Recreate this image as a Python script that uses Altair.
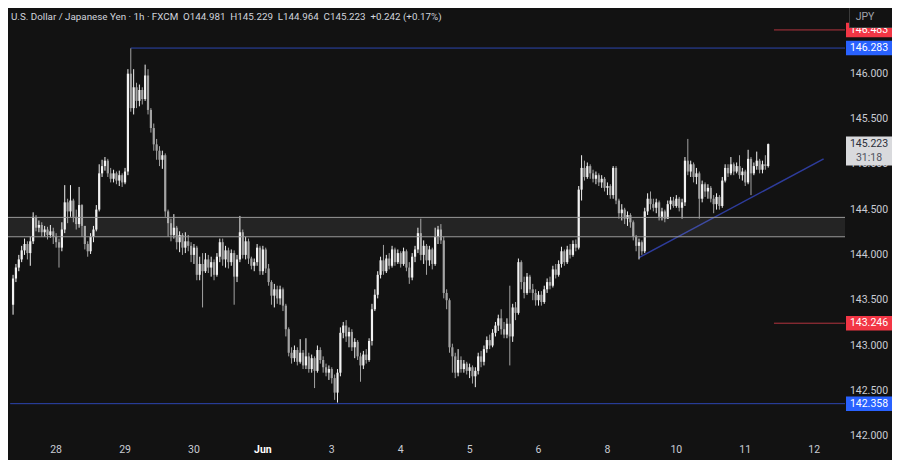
import altair as alt
import pandas as pd

# ---------------- data ----------------
NB = "\u00a0"
TITLE = ("U.S. Dollar / Japanese Yen · 1h · FXCM" + NB * 2 + "O144.981" + NB * 2 + "H145.229"
         + NB * 2 + "L144.964" + NB * 2 + "C145.223" + NB * 2 + "+0.242 (+0.17%)")
FIRST_OPEN = 143.45

closes = [
    143.74, 143.86, 143.95, 144.05, 144.12, 144.02, 144.15, 144.42,
    144.30, 144.33, 144.25, 144.28, 144.22, 144.26, 144.20, 144.14,
    144.08, 144.28, 144.58, 144.48, 144.60, 144.42, 144.34, 144.55,
    144.32, 144.12, 144.04, 144.20, 144.28, 144.50, 144.90, 144.98,
    145.04, 144.90, 144.84, 144.90, 144.82, 144.88, 144.80, 144.92,
    146.00, 145.62, 145.85, 145.70, 145.82, 145.72, 145.98, 145.60,
    145.40, 145.22, 145.15, 145.05, 145.10, 144.48, 144.35, 144.22,
    144.30, 144.14, 144.22, 144.08, 144.15, 144.10, 144.00, 144.08,
    143.78, 143.90, 143.82, 143.95, 143.86, 143.92, 143.78, 143.98,
    144.14, 143.95, 144.05, 143.92, 144.02, 143.76, 143.95, 144.25,
    144.00, 144.15, 143.96, 143.88, 143.92, 144.08, 143.82, 144.06,
    143.85, 143.70, 143.55, 143.62, 143.52, 143.62, 143.44, 143.18,
    142.92, 142.86, 142.95, 142.82, 142.92, 142.78, 142.88, 142.74,
    142.86, 142.72, 142.95, 142.84, 142.76, 142.70, 142.74, 142.64,
    142.48, 142.70, 143.14, 143.22, 143.10, 143.15, 142.98, 143.04,
    142.88, 142.78, 142.90, 142.84, 143.05, 143.40, 143.56, 143.78,
    143.94, 143.82, 143.96, 143.88, 144.06, 143.92, 144.02, 143.90,
    144.04, 143.86, 143.75, 143.98, 144.06, 144.24, 144.00, 144.10,
    143.94, 144.06, 143.90, 144.20, 144.28, 144.16, 143.58, 143.50,
    142.98, 142.88, 142.70, 142.84, 142.74, 142.80, 142.72, 142.76,
    142.66, 142.72, 142.88, 142.82, 142.96, 143.06, 143.00, 143.14,
    143.22, 143.30, 143.18, 143.12, 143.24, 143.10, 143.42, 143.36,
    143.92, 143.70, 143.58, 143.76, 143.62, 143.58, 143.50, 143.56,
    143.48, 143.62, 143.70, 143.66, 143.84, 143.78, 143.90, 144.04,
    143.92, 144.06, 144.00, 144.12, 144.08, 144.72, 144.96, 144.86,
    144.98, 144.90, 144.84, 144.88, 144.80, 144.84, 144.74, 144.76,
    144.66, 144.96, 144.60, 144.46, 144.50, 144.40, 144.44, 144.36,
    144.20, 144.10, 144.14, 144.04, 144.48, 144.62, 144.56, 144.52,
    144.58, 144.42, 144.48, 144.40, 144.56, 144.60, 144.54, 144.62,
    144.52, 144.58, 145.04, 144.92, 145.00, 144.86, 144.90, 144.62,
    144.78, 144.70, 144.74, 144.62, 144.56, 144.64, 144.54, 144.82,
    144.96, 144.90, 145.00, 144.92, 144.98, 144.88, 144.92, 144.80,
    145.06, 144.90, 144.98, 145.04, 144.94, 145.00, 144.981, 145.223,
]

highs = [
    143.78, 143.90, 144.00, 144.10, 144.18, 144.15, 144.20, 144.47,
    144.44, 144.38, 144.36, 144.32, 144.31, 144.33, 144.30, 144.24,
    144.18, 144.36, 144.77, 144.62, 144.77, 144.62, 144.50, 144.75,
    144.56, 144.30, 144.15, 144.24, 144.32, 144.55, 145.00, 145.05,
    145.08, 145.06, 144.96, 144.94, 144.92, 144.93, 144.90, 144.96,
    146.05, 146.28, 146.05, 145.90, 145.88, 145.85, 146.10, 146.05,
    145.62, 145.45, 145.28, 145.20, 145.15, 145.12, 144.50, 144.40,
    144.45, 144.32, 144.26, 144.24, 144.25, 144.22, 144.14, 144.12,
    144.10, 143.98, 144.02, 144.02, 144.00, 143.98, 143.95, 144.02,
    144.18, 144.18, 144.10, 144.08, 144.06, 144.05, 144.00, 144.43,
    144.28, 144.20, 144.18, 143.98, 143.96, 144.12, 144.10, 144.10,
    144.08, 143.90, 143.72, 143.68, 143.66, 143.66, 143.64, 143.46,
    143.20, 142.98, 143.00, 142.98, 143.07, 142.95, 143.08, 142.92,
    142.90, 142.88, 143.00, 142.98, 142.88, 142.80, 142.78, 142.76,
    142.68, 142.74, 143.20, 143.26, 143.28, 143.20, 143.18, 143.08,
    143.06, 142.92, 142.94, 142.96, 143.08, 143.46, 143.62, 143.82,
    143.98, 144.11, 144.00, 144.02, 144.10, 144.08, 144.06, 144.04,
    144.08, 144.06, 143.92, 144.02, 144.10, 144.30, 144.40, 144.16,
    144.12, 144.10, 144.08, 144.30, 144.32, 144.34, 144.20, 143.62,
    143.52, 143.02, 142.92, 142.96, 142.88, 142.84, 142.82, 142.80,
    142.78, 142.76, 142.92, 142.94, 143.00, 143.10, 143.12, 143.18,
    143.26, 143.34, 143.40, 143.26, 143.30, 143.66, 143.46, 143.48,
    143.96, 143.94, 143.76, 143.80, 143.78, 143.68, 143.62, 143.60,
    143.60, 143.66, 143.74, 143.76, 143.88, 143.90, 143.94, 144.09,
    144.06, 144.10, 144.12, 144.16, 144.17, 144.76, 145.10, 145.04,
    145.02, 145.00, 144.94, 144.92, 144.90, 144.88, 144.86, 144.80,
    144.78, 144.98, 144.98, 144.62, 144.56, 144.52, 144.48, 144.46,
    144.38, 144.22, 144.18, 144.16, 144.52, 144.68, 144.70, 144.62,
    144.62, 144.60, 144.52, 144.50, 144.60, 144.64, 144.64, 144.66,
    144.64, 144.62, 145.08, 145.28, 145.04, 145.02, 144.96, 144.92,
    144.82, 144.80, 144.78, 144.76, 144.66, 144.68, 144.66, 144.86,
    145.00, 145.00, 145.08, 145.02, 145.02, 145.10, 144.96, 144.94,
    145.16, 145.08, 145.02, 145.14, 145.06, 145.04, 145.10, 145.229,
]

lows = [
    143.34, 143.70, 143.82, 143.92, 144.00, 143.95, 143.88, 144.12,
    144.26, 144.25, 144.20, 144.20, 144.17, 144.19, 144.12, 144.08,
    143.86, 144.04, 144.24, 144.35, 144.42, 144.36, 144.28, 144.30,
    144.20, 144.06, 143.98, 144.01, 144.14, 144.26, 144.48, 144.86,
    144.93, 144.86, 144.80, 144.80, 144.78, 144.76, 144.75, 144.78,
    144.88, 145.58, 145.55, 145.62, 145.64, 145.66, 145.70, 145.55,
    145.35, 145.15, 145.05, 144.98, 144.95, 144.42, 144.20, 144.15,
    144.18, 144.06, 144.03, 144.00, 144.02, 144.04, 143.92, 143.90,
    143.72, 143.72, 143.42, 143.80, 143.80, 143.76, 143.72, 143.76,
    143.92, 143.88, 143.86, 143.85, 143.88, 143.45, 143.70, 143.92,
    143.96, 143.95, 143.90, 143.84, 143.82, 143.88, 143.78, 143.78,
    143.80, 143.66, 143.45, 143.42, 143.46, 143.45, 143.38, 143.10,
    142.88, 142.80, 142.82, 142.78, 142.80, 142.74, 142.74, 142.70,
    142.70, 142.53, 142.70, 142.80, 142.70, 142.66, 142.62, 142.58,
    142.40, 142.37, 142.66, 143.08, 143.04, 142.98, 142.94, 142.86,
    142.84, 142.60, 142.74, 142.80, 142.82, 143.00, 143.38, 143.52,
    143.74, 143.78, 143.80, 143.84, 143.86, 143.88, 143.90, 143.86,
    143.88, 143.82, 143.68, 143.72, 143.92, 144.02, 143.94, 143.90,
    143.78, 143.88, 143.84, 143.88, 144.12, 144.12, 143.52, 143.40,
    142.92, 142.70, 142.64, 142.66, 142.70, 142.70, 142.68, 142.64,
    142.58, 142.54, 142.68, 142.76, 142.78, 142.92, 142.96, 142.98,
    143.10, 143.16, 143.12, 143.08, 143.08, 142.78, 143.04, 143.28,
    143.34, 143.62, 143.52, 143.56, 143.58, 143.50, 143.44, 143.44,
    143.44, 143.46, 143.58, 143.62, 143.64, 143.74, 143.76, 143.86,
    143.88, 143.90, 143.96, 143.98, 144.04, 144.06, 144.60, 144.82,
    144.84, 144.84, 144.80, 144.78, 144.76, 144.74, 144.70, 144.66,
    144.62, 144.62, 144.56, 144.40, 144.38, 144.34, 144.32, 144.30,
    144.16, 144.04, 143.95, 144.00, 144.02, 144.44, 144.50, 144.48,
    144.46, 144.38, 144.38, 144.36, 144.40, 144.50, 144.52, 144.52,
    144.48, 144.40, 144.54, 144.88, 144.86, 144.80, 144.78, 144.40,
    144.58, 144.64, 144.62, 144.58, 144.46, 144.50, 144.50, 144.52,
    144.80, 144.86, 144.88, 144.88, 144.90, 144.84, 144.82, 144.76,
    144.78, 144.66, 144.88, 144.94, 144.90, 144.90, 144.94, 144.964,
]

DAY_LABELS = ["28", "29", "30", "Jun", "3", "4", "5", "6", "8", "10", "11", "12"]
DAY_BARS = [15, 39, 63, 87, 111, 135, 159, 183, 207, 231, 255, 279]

PRICE_TICKS = [142.0, 142.5, 143.0, 143.5, 144.0, 144.5, 145.0, 145.5, 146.0, 146.5]

LEVELS = [146.483, 146.283, 143.246, 142.358]
LEVEL_TEXT = ["146.483", "146.283", "143.246", "142.358"]
LEVEL_KIND = ["red", "blue", "red", "blue"]
LEVEL_FROM = [265, 41, 265, -1]

ZONE_TOP, ZONE_BOTTOM = 144.414, 144.200

TREND_FROM_BAR, TREND_FROM_PRICE = 218, 143.97
TREND_TO_BAR, TREND_TO_PRICE = 282.3, 145.06

LAST_PRICE_TEXT = "145.223"
LAST_PRICE = 145.223
COUNTDOWN = "31:18"
CURRENCY = "JPY"

# ---------------- styling ----------------
BG = "#121212"
UP = "#f2f2f2"
DOWN = "#a3a3a3"
TXT = "#c9ccd4"
FONT = "Roboto"
W, H = 837, 432

opens = [FIRST_OPEN] + closes[:-1]
candles = pd.DataFrame({"i": list(range(len(closes))), "open": opens,
                        "high": highs, "low": lows, "close": closes})
candles["high"] = candles[["high", "open", "close"]].max(axis=1)
candles["low"] = candles[["low", "open", "close"]].min(axis=1)

xs = alt.Scale(domain=[-0.02, 288.0], nice=False, zero=False)
ys = alt.Scale(domain=[141.957, 146.725], nice=False, zero=False)


def X(f):
    return alt.X(f, type="quantitative", scale=xs, axis=None)


def Y(f):
    return alt.Y(f, type="quantitative", scale=ys, axis=None)


kind_stroke = alt.Stroke("kind:N", scale=alt.Scale(domain=["red", "blue"], range=["#b3343f", "#2c45b0"]), legend=None)
kind_fill = alt.Fill("kind:N", scale=alt.Scale(domain=["red", "blue"], range=["#f23645", "#2962ff"]), legend=None)

ccol = alt.condition("datum.close >= datum.open", alt.value(UP), alt.value(DOWN))
base = alt.Chart(candles)
wicks = base.mark_rule(strokeWidth=1).encode(x=X("i"), y=Y("low"), y2="high", color=ccol)
bodies = base.mark_bar(size=2.2).encode(x=X("i"), y=Y("open"), y2="close", color=ccol)

zone_df = pd.DataFrame({"top": [ZONE_TOP], "bottom": [ZONE_BOTTOM]})
zone = alt.Chart(zone_df).mark_rect(fill="#ffffff", opacity=0.08).encode(
    x=alt.value(0), x2=alt.value("width"), y=Y("top"), y2="bottom")
zone_edges = alt.Chart(pd.DataFrame({"p": [ZONE_TOP, ZONE_BOTTOM]})).mark_rule(
    stroke="#9a9a9a", strokeWidth=1).encode(x=alt.value(0), x2=alt.value("width"), y=Y("p"))

lv = pd.DataFrame({"price": LEVELS, "label": LEVEL_TEXT, "kind": LEVEL_KIND, "start": LEVEL_FROM})
level_lines = alt.Chart(lv).mark_rule(strokeWidth=1).encode(
    x=X("start"), x2=alt.value("width"), y=Y("price"), stroke=kind_stroke)

trend = alt.Chart(pd.DataFrame({"x0": [TREND_FROM_BAR], "y0": [TREND_FROM_PRICE],
                                "x1": [TREND_TO_BAR], "y1": [TREND_TO_PRICE]})).mark_rule(
    stroke="#2e3c9c", strokeWidth=1.5).encode(x=X("x0"), y=Y("y0"), x2="x1", y2="y1")

ticks = alt.Chart(pd.DataFrame({"p": PRICE_TICKS})).mark_text(
    font=FONT, fontSize=10.5, color=TXT, align="center", baseline="middle").encode(
    x=alt.value(861), y=Y("p"), text=alt.Text("p:Q", format=".3f"))

tag_rect = alt.Chart(lv).transform_calculate(
    t="datum.price + 0.08", b="datum.price - 0.08").mark_rect().encode(
    x=alt.value(838), x2=alt.value(884), y=Y("t"), y2="b", fill=kind_fill)
tag_text = alt.Chart(lv).mark_text(font=FONT, fontSize=10.5, color="#ffffff",
                                   align="center", baseline="middle").encode(
    x=alt.value(861), y=Y("price"), text="label:N")

last_df = pd.DataFrame({"price": [LAST_PRICE], "label": [LAST_PRICE_TEXT], "cd": [COUNTDOWN]})
last_rect = alt.Chart(last_df).transform_calculate(
    t="datum.price + 0.083", b="datum.price - 0.237").mark_rect(fill="#d9dadd").encode(
    x=alt.value(838), x2=alt.value(884), y=Y("t"), y2="b")
last_text = alt.Chart(last_df).mark_text(font=FONT, fontSize=10.5, color="#2a2e39",
                                         align="center", baseline="middle").encode(
    x=alt.value(861), y=Y("price"), text="label:N")
last_cd = alt.Chart(last_df).transform_calculate(p2="datum.price - 0.15").mark_text(
    font=FONT, fontSize=10.5, color="#50535e", align="center", baseline="middle").encode(
    x=alt.value(861), y=Y("p2"), text="cd:N")

cur_df = pd.DataFrame({"t": [CURRENCY]})
cur_box = alt.Chart(cur_df).mark_rect(fill=BG, stroke="#3a3a3a", strokeWidth=1).encode(
    x=alt.value(841.5), x2=alt.value(892), y=alt.value(-2), y2=alt.value(19.5))
cur_text = alt.Chart(cur_df).mark_text(font=FONT, fontSize=10.5, color="#a0a3ab",
                                       align="center", baseline="middle").encode(
    x=alt.value(857), y=alt.value(9), text="t:N")

title = alt.Chart(pd.DataFrame({"t": [TITLE]})).mark_text(
    font=FONT, fontSize=9.8, color="#d1d4dc", align="left", baseline="middle").encode(
    x=alt.value(3), y=alt.value(8.7), text="t:N")

days = pd.DataFrame({"i": DAY_BARS, "label": DAY_LABELS})
day_txt = alt.Chart(days).transform_filter("datum.label != 'Jun'").mark_text(
    font=FONT, fontSize=10.5, color=TXT, align="center", baseline="middle").encode(
    x=X("i"), y=alt.value(441.5), text="label:N")
day_bold = alt.Chart(days).transform_filter("datum.label == 'Jun'").mark_text(
    font=FONT, fontSize=10.5, color="#ffffff", fontWeight="bold", align="center",
    baseline="middle").encode(x=X("i"), y=alt.value(441.5), text="label:N")

chart = alt.layer(
    level_lines, trend, wicks, bodies, zone, zone_edges,
    ticks, tag_rect, tag_text, last_rect, last_text, last_cd,
    cur_box, cur_text, title, day_txt, day_bold,
).properties(
    width=W, height=H,
    autosize=alt.AutoSizeParams(type="none"),
    padding={"left": 0, "top": 0, "right": 47, "bottom": 20},
).configure(background=BG).configure_view(strokeWidth=0)

chart.save("out.html", embed_options={"renderer": "svg", "actions": False})
